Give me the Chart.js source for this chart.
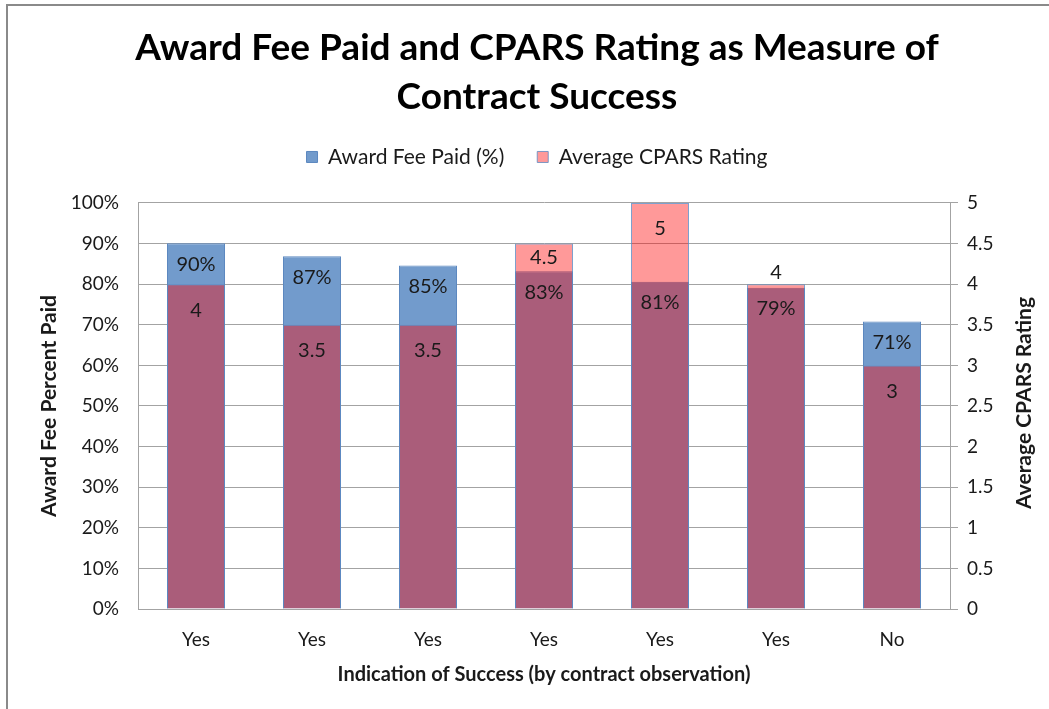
<!DOCTYPE html>
<html>
<head>
<meta charset="utf-8">
<script src="https://cdn.jsdelivr.net/npm/chart.js@4.4.1/dist/chart.umd.min.js"></script>
<style>
    html, body { margin: 0; padding: 0; background: #fff; overflow: hidden; }
    #wrap { position: relative; width: 1049px; height: 709px; }
    #frame { position: absolute; left: 6px; top: 4px; width: 1100px; height: 800px; border: 2px solid #8a8a8a; box-sizing: border-box; }
</style>
</head>
<body>
<div id="wrap">
    <div id="frame"></div>
    <canvas id="mainChart" width="1049" height="709"></canvas>
</div>
<script>
// 数据
const categories = ['Yes', 'Yes', 'Yes', 'Yes', 'Yes', 'Yes', 'No'];
const feePaid = [90.1, 86.9, 84.6, 83.2, 80.6, 79.1, 70.8];   // % 左轴
const cparsRating = [4, 3.5, 3.5, 4.5, 5, 4, 3];            // 右轴
const feeTicks = [0, 10, 20, 30, 40, 50, 60, 70, 80, 90, 100];
const cparsTicks = [0, 0.5, 1, 1.5, 2, 2.5, 3, 3.5, 4, 4.5, 5];

const FONT = 'Lato, "Open Sans", sans-serif';
const TEXT = '#1a1a1a';
const GRID = '#a3a3a3';

Chart.defaults.font.family = FONT;
Chart.defaults.color = TEXT;

// 柱内数值标签
const valueLabels = {
    id: 'valueLabels',
    afterDatasetsDraw(chart) {
        const ctx = chart.ctx;
        const feeMeta = chart.getDatasetMeta(0);
        const cparsMeta = chart.getDatasetMeta(1);
        ctx.save();
        ctx.font = '20px ' + FONT;
        ctx.fillStyle = TEXT;
        ctx.textAlign = 'center';
        ctx.textBaseline = 'middle';
        feeMeta.data.forEach((bar, i) => {
            const feeY = bar.y + 21;
            ctx.fillText(Math.round(feePaid[i]) + '%', bar.x, feeY);
            const c = cparsMeta.data[i];
            let y = c.y + 26;
            if (Math.abs(y - feeY) < 25) {
                const gap = bar.y - c.y;
                y = gap > 22 ? c.y + gap / 2 : c.y - 12;
            }
            ctx.fillText(String(cparsRating[i]), c.x, y);
        });
        ctx.restore();
    }
};

// 右侧轴标题（自下而上）
const rightTitle = {
    id: 'rightTitle',
    afterDraw(chart) {
        const ctx = chart.ctx;
        const area = chart.chartArea;
        ctx.save();
        ctx.translate(1024, (area.top + area.bottom) / 2 - 3);
        ctx.rotate(-Math.PI / 2);
        ctx.font = 'bold 21px ' + FONT;
        ctx.fillStyle = TEXT;
        ctx.textAlign = 'center';
        ctx.textBaseline = 'middle';
        ctx.fillText('Average CPARS Rating', 0, 0);
        ctx.restore();
    }
};

// 固定图例高度，让绘图区顶部对齐
const legendHeight = {
    id: 'legendHeight',
    beforeLayout(chart) {
        const lg = chart.legend;
        if (lg && !lg._fixed) {
            const fit = lg.fit;
            lg.fit = function() {
                fit.call(this);
                this.height = 89.5;
            };
            lg._fixed = true;
        }
    }
};

const ctx = document.getElementById('mainChart');
new Chart(ctx, {
    type: 'bar',
    data: {
        labels: categories,
        datasets: [{
            label: 'Award Fee Paid (%)',
            data: feePaid,
            yAxisID: 'y',
            backgroundColor: 'rgb(114,155,204)',
            borderColor: 'rgb(92,136,192)',
            borderWidth: 1,
            grouped: false,
            order: 2
        }, {
            label: 'Average CPARS Rating',
            data: cparsRating,
            yAxisID: 'y1',
            backgroundColor: 'rgba(255,0,0,0.4)',
            borderColor: 'rgba(92,136,192,0.8)',
            borderWidth: 1,
            grouped: false,
            order: 1
        }]
    },
    options: {
        responsive: false,
        animation: false,
        barPercentage: 0.5,
        categoryPercentage: 1,
        layout: { padding: { left: 25, right: 0, top: 0, bottom: 0 } },
        plugins: {
            title: {
                display: true,
                text: ['Award Fee Paid and CPARS Rating as Measure of', 'Contract Success'],
                color: '#000',
                font: { size: 37, weight: 'bold', lineHeight: 1.324 },
                padding: { top: 23.5, bottom: -8 }
            },
            legend: {
                display: true,
                position: 'top',
                labels: {
                    boxWidth: 11,
                    boxHeight: 11,
                    padding: 33,
                    color: TEXT,
                    font: { size: 21 },
                    sort: (a, b) => a.datasetIndex - b.datasetIndex
                }
            },
            tooltip: { enabled: false }
        },
        scales: {
            x: {
                grid: { display: false },
                border: { display: true, color: GRID },
                ticks: { font: { size: 19 }, padding: 11, color: TEXT },
                title: {
                    display: true,
                    text: 'Indication of Success (by contract observation)',
                    font: { size: 20, weight: 'bold', lineHeight: 1.2 },
                    color: TEXT,
                    padding: { top: 0, bottom: 22 }
                },
                afterFit(s) { s.height = 100; }
            },
            y: {
                position: 'left',
                min: 0,
                max: 100,
                afterBuildTicks(s) { s.ticks = feeTicks.map(v => ({ value: v })); },
                ticks: { font: { size: 19 }, padding: 19, color: TEXT, callback: v => v + '%' },
                grid: { color: GRID, drawTicks: false },
                border: { display: true, color: GRID },
                title: {
                    display: true,
                    text: 'Award Fee Percent Paid',
                    font: { size: 21, weight: 'bold', lineHeight: 1.2 },
                    color: TEXT,
                    padding: { top: 12, bottom: 0 }
                },
                afterFit(s) { s.width = 113; }
            },
            y1: {
                position: 'right',
                min: 0,
                max: 5,
                afterBuildTicks(s) { s.ticks = cparsTicks.map(v => ({ value: v })); },
                ticks: { font: { size: 19 }, padding: 9, color: TEXT, callback: v => String(v) },
                grid: { drawOnChartArea: false, drawTicks: true, tickLength: 8, color: GRID },
                border: { display: true, color: GRID },
                afterFit(s) { s.width = 99; }
            }
        }
    },
    plugins: [legendHeight, valueLabels, rightTitle]
});
</script>
</body>
</html>
